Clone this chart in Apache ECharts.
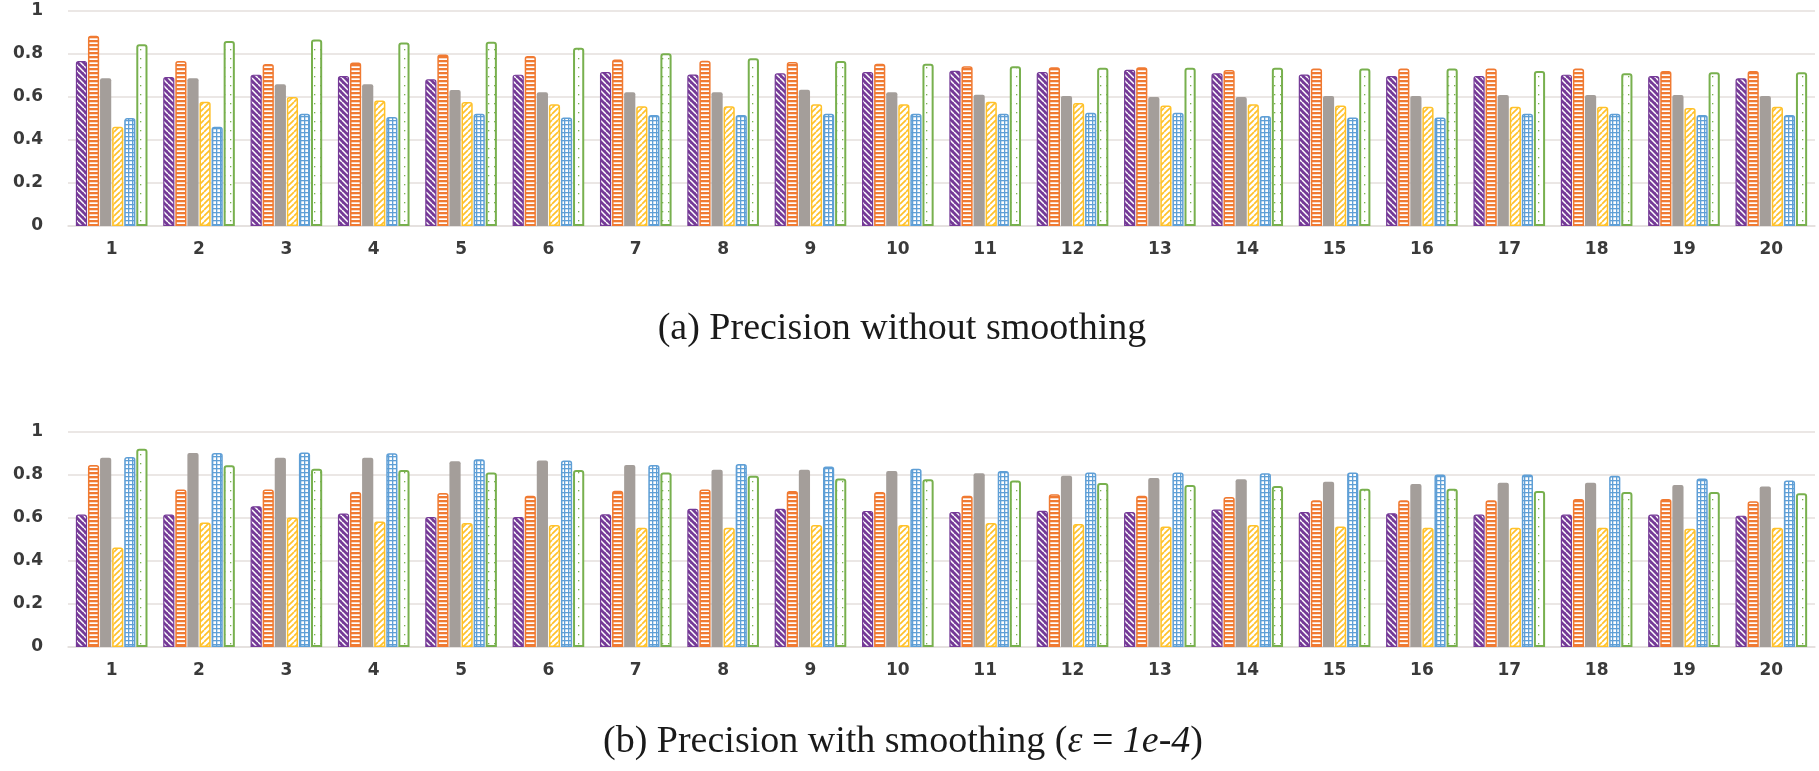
<!DOCTYPE html>
<html>
<head>
<meta charset="utf-8">
<script src="https://cdn.jsdelivr.net/npm/echarts@6/dist/echarts.min.js"></script>
<style>
html,body{margin:0;padding:0;background:#fff;}
#chart{width:1819px;height:771px;}
</style>
</head>
<body>
<div id="chart"></div>
<script>
// ---- data ----
const categories = ['1','2','3','4','5','6','7','8','9','10','11','12','13','14','15','16','17','18','19','20'];
const seriesNames = ['S1','S2','S3','S4','S5','S6'];

// (a) Precision without smoothing
const a_purple = [0.767,0.693,0.704,0.698,0.682,0.704,0.716,0.705,0.710,0.716,0.722,0.716,0.727,0.710,0.705,0.698,0.698,0.704,0.698,0.687];
const a_orange = [0.885,0.767,0.753,0.760,0.798,0.791,0.774,0.769,0.763,0.755,0.743,0.738,0.738,0.726,0.732,0.732,0.732,0.732,0.721,0.721];
const a_gray   = [0.687,0.687,0.659,0.659,0.633,0.622,0.622,0.622,0.634,0.622,0.611,0.605,0.600,0.600,0.605,0.605,0.609,0.609,0.609,0.605];
const a_yellow = [0.462,0.578,0.600,0.584,0.577,0.566,0.557,0.557,0.566,0.566,0.578,0.572,0.561,0.566,0.561,0.555,0.555,0.555,0.549,0.555];
const a_blue   = [0.502,0.462,0.522,0.507,0.522,0.505,0.516,0.516,0.522,0.522,0.522,0.527,0.527,0.512,0.505,0.505,0.522,0.522,0.516,0.516];
const a_green  = [0.845,0.860,0.867,0.853,0.857,0.829,0.803,0.780,0.767,0.755,0.743,0.736,0.736,0.736,0.732,0.732,0.721,0.710,0.715,0.715];

// (b) Precision with smoothing
const b_purple = [0.616,0.616,0.655,0.621,0.605,0.605,0.617,0.643,0.643,0.633,0.628,0.634,0.628,0.639,0.628,0.622,0.616,0.616,0.616,0.611];
const b_orange = [0.846,0.733,0.733,0.721,0.716,0.704,0.727,0.732,0.726,0.721,0.704,0.710,0.704,0.698,0.682,0.682,0.682,0.688,0.688,0.678];
const b_gray   = [0.880,0.902,0.880,0.880,0.864,0.868,0.847,0.825,0.825,0.819,0.808,0.797,0.786,0.780,0.769,0.758,0.764,0.764,0.753,0.747];
const b_yellow = [0.463,0.579,0.602,0.584,0.577,0.567,0.555,0.555,0.567,0.567,0.577,0.572,0.561,0.567,0.561,0.555,0.555,0.555,0.550,0.555];
const b_blue   = [0.884,0.902,0.905,0.901,0.873,0.868,0.847,0.851,0.840,0.829,0.819,0.812,0.812,0.808,0.812,0.802,0.802,0.797,0.784,0.774];
const b_green  = [0.922,0.845,0.829,0.823,0.812,0.823,0.812,0.797,0.784,0.780,0.774,0.763,0.753,0.749,0.736,0.736,0.726,0.721,0.721,0.715];

const captionA = 'Precision without smoothing';
const captionB = 'Precision with smoothing';

// ---- patterns (styles) ----
function pat(w, h, draw) {
  const c = document.createElement('canvas');
  c.width = w; c.height = h;
  const ctx = c.getContext('2d');
  draw(ctx, w, h);
  return { image: c, repeat: 'repeat' };
}
const C = {
  purple: '#753a97', orange: '#f07a32', gray: '#a49e9a',
  yellow: '#ffc12a', blue: '#5f9fd6', green: '#78b04e'
};
const pPurple = pat(6, 6, (ctx, w, h) => {
  ctx.fillStyle = C.purple; ctx.fillRect(0, 0, w, h);
  ctx.strokeStyle = '#ffffff'; ctx.lineWidth = 1.5;
  for (let k = -1; k <= 1; k++) { ctx.beginPath(); ctx.moveTo(k * w, 0); ctx.lineTo(k * w + w, h); ctx.stroke(); }
});
const pOrange = pat(4, 4, (ctx, w, h) => {
  ctx.fillStyle = '#ffffff'; ctx.fillRect(0, 0, w, h);
  ctx.fillStyle = C.orange; ctx.fillRect(0, 0, w, 2.3);
});
const pYellow = pat(6, 6, (ctx, w, h) => {
  ctx.fillStyle = '#ffffff'; ctx.fillRect(0, 0, w, h);
  ctx.strokeStyle = C.yellow; ctx.lineWidth = 1.7;
  for (let k = -1; k <= 1; k++) { ctx.beginPath(); ctx.moveTo(k * w, h); ctx.lineTo(k * w + w, 0); ctx.stroke(); }
});
const pBlue = pat(4, 4, (ctx, w, h) => {
  ctx.fillStyle = '#ffffff'; ctx.fillRect(0, 0, w, h);
  ctx.fillStyle = C.blue; ctx.fillRect(0, 0, w, 1.3); ctx.fillRect(0, 0, 1.3, h);
});
const pGreen = pat(6, 9, (ctx, w, h) => {
  ctx.fillStyle = '#ffffff'; ctx.fillRect(0, 0, w, h);
  ctx.fillStyle = C.green; ctx.fillRect(2, 4, 1.3, 1.3);
});

const styles = [
  { color: pPurple, borderColor: C.purple, borderWidth: 1.2 },
  { color: pOrange, borderColor: C.orange, borderWidth: 1.5 },
  { color: C.gray, borderColor: C.gray, borderWidth: 0 },
  { color: pYellow, borderColor: C.yellow, borderWidth: 1.5 },
  { color: pBlue, borderColor: C.blue, borderWidth: 1.5 },
  { color: pGreen, borderColor: C.green, borderWidth: 2 }
];

const gridTops = [11, 432];
const dataSets = [
  [a_purple, a_orange, a_gray, a_yellow, a_blue, a_green],
  [b_purple, b_orange, b_gray, b_yellow, b_blue, b_green]
];

const labelStyle = { fontFamily: 'DejaVu Sans', fontWeight: 'bold', fontSize: 17, color: '#3a3a3a' };
const lineColor = '#e4dfdd';

const grids = [], xAxes = [], yAxes = [], series = [];
gridTops.forEach((t, gi) => {
  grids.push({ left: 68, right: 4, top: t, height: 215, containLabel: false });
  xAxes.push({
    type: 'category', gridIndex: gi, data: categories,
    axisLine: { show: true, lineStyle: { color: lineColor, width: 1.5 } },
    axisTick: { show: false },
    axisLabel: Object.assign({ margin: 15 }, labelStyle),
    splitLine: { show: false }
  });
  yAxes.push({
    type: 'value', gridIndex: gi, min: 0, max: 1, interval: 0.2,
    axisLine: { show: false }, axisTick: { show: false },
    axisLabel: Object.assign({ margin: 25 }, labelStyle),
    splitLine: { show: true, lineStyle: { color: lineColor, width: 1.5 } }
  });
  dataSets[gi].forEach((arr, si) => {
    series.push({
      type: 'bar', name: seriesNames[si], xAxisIndex: gi, yAxisIndex: gi,
      data: arr,
      barGap: '8%', barCategoryGap: '18%',
      itemStyle: Object.assign({ borderRadius: [2, 2, 0, 0] }, styles[si]),
      emphasis: { disabled: true },
      animation: false
    });
  });
});

const capFont = 'Liberation Serif';
const capSize = 38;
const chart = echarts.init(document.getElementById('chart'), null, { renderer: 'canvas' });
chart.setOption({
  backgroundColor: '#ffffff',
  animation: false,
  grid: grids, xAxis: xAxes, yAxis: yAxes, series: series,
  graphic: [
    {
      type: 'text', x: 902, y: 329,
      style: {
        text: '(a) ' + captionA,
        font: capSize + 'px "' + capFont + '"', fill: '#1a1a1a',
        textAlign: 'center', textVerticalAlign: 'middle'
      }
    },
    {
      type: 'text', x: 903, y: 742,
      style: {
        text: '{n|(b) ' + captionB + ' (}{i|ε}{n| = }{i|1e-4}{n|)}',
        rich: {
          n: { fontFamily: capFont, fontSize: capSize, fill: '#1a1a1a', color: '#1a1a1a' },
          i: { fontFamily: capFont, fontSize: capSize, fontStyle: 'italic', fill: '#1a1a1a', color: '#1a1a1a' }
        },
        textAlign: 'center', textVerticalAlign: 'middle'
      }
    }
  ]
});
</script>
</body>
</html>
